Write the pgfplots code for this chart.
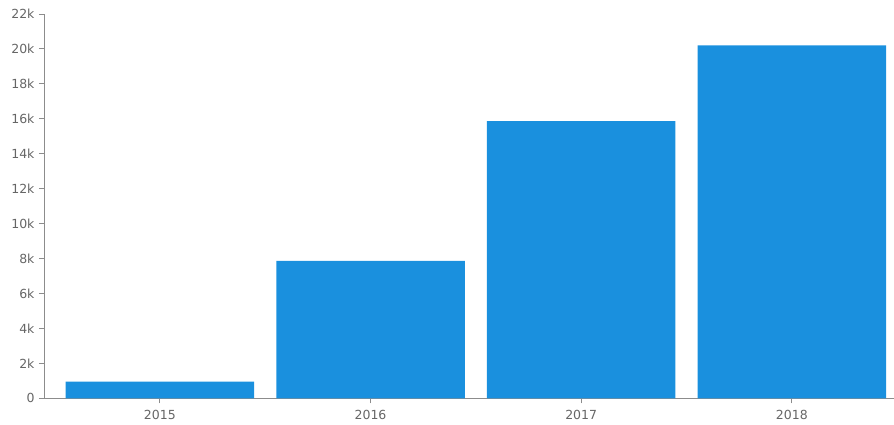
\documentclass[border=0pt]{standalone}
\usepackage{fontspec}
\setmainfont{DejaVu Sans}
\usepackage{pgfplots}
\pgfplotsset{compat=1.18}
\definecolor{barblue}{RGB}{26,144,222}
\definecolor{axgray}{RGB}{140,140,140}
\definecolor{txtgray}{RGB}{102,102,102}
\begin{document}
\begin{tikzpicture}
\begin{axis}[
  scale only axis, width=850pt, height=384.3pt,
  xmin=-0.55, xmax=3.485, ymin=0, ymax=22000,
  axis x line*=bottom, axis y line*=left,
  axis line style={axgray, line width=0.9pt},
  tick style={axgray, line width=0.9pt},
  major tick length=5pt, tick align=outside,
  xtick={0,1,2,3}, xticklabels={2015,2016,2017,2018},
  ytick={0,2000,...,22000},
  yticklabels={0,2k,4k,6k,8k,10k,12k,14k,16k,18k,20k,22k},
  scaled y ticks=false,
  ticklabel style={font=\fontsize{12.5}{14}\selectfont, text=txtgray},
  xticklabel style={yshift=-3pt},
  yticklabel style={xshift=-1pt},
  ybar, bar width=0.895,
]
\addplot[fill=barblue, draw=none] coordinates {(0,950) (1,7860) (2,15870) (3,20210)};
\end{axis}
\pgfresetboundingbox
\path (current axis.south west) ++(-44pt,-26.7pt) coordinate (bl);
\path (current axis.south west) ++(850pt,398.3pt) coordinate (tr);
\path[use as bounding box] (bl) rectangle (tr);
\end{tikzpicture}
\end{document}
